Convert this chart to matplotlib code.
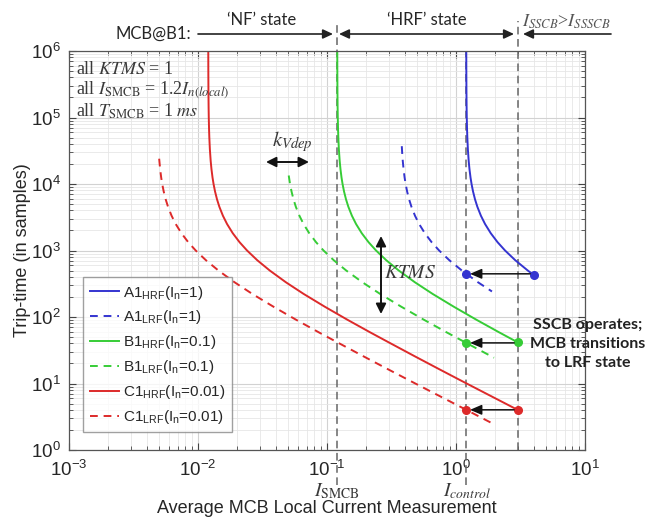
import matplotlib
matplotlib.use("Agg")
import matplotlib.pyplot as plt

plt.rcParams['font.family'] = ['Liberation Sans', 'DejaVu Sans']
plt.rcParams['mathtext.fontset'] = 'custom'
plt.rcParams['mathtext.rm'] = 'Liberation Sans'
plt.rcParams['mathtext.it'] = 'Liberation Sans:italic'
plt.rcParams['mathtext.bf'] = 'Liberation Sans:bold'

# ---------------- data ----------------
a1_hrf_x = [1.2012, 1.2024, 1.2048, 1.2084, 1.212, 1.218, 1.224, 1.236, 1.254, 1.272, 1.296, 1.32,
            1.356, 1.404, 1.464, 1.56, 1.68, 1.86, 2.1, 2.4, 2.88, 3.6, 4.0]
a1_hrf_y = [1e6, 500000, 250000, 142857, 100000, 66667, 50000, 33333, 22222, 16667, 12500, 10000,
            7692, 5882, 4545, 3333, 2500, 1818, 1333, 1000, 714, 500, 429]
a1_lrf_x = [0.3800, 0.3830, 0.3867, 0.3922, 0.3996, 0.407, 0.4181, 0.4329, 0.4514, 0.481, 0.518,
            0.5735, 0.6475, 0.74, 0.888, 1.11, 1.48, 1.9]
a1_lrf_y = [37037, 28571, 22222, 16667, 12500, 10000, 7692, 5882, 4545, 3333, 2500,
            1818, 1333, 1000, 714, 500, 333, 242]

b1_hrf_x = [0.12012, 0.12024, 0.12048, 0.12084, 0.1212, 0.1218, 0.1224, 0.1236, 0.1254, 0.1272,
            0.1296, 0.132, 0.1356, 0.1404, 0.1464, 0.156, 0.168, 0.186, 0.21, 0.24, 0.288, 0.36,
            0.48, 0.66, 0.96, 1.44, 2.16, 3.0]
b1_hrf_y = [1e6, 500000, 250000, 142857, 100000, 66667, 50000, 33333, 22222, 16667,
            12500, 10000, 7692, 5882, 4545, 3333, 2500, 1818, 1333, 1000, 714, 500,
            333, 222, 143, 90.9, 58.8, 41.7]
b1_lrf_x = [0.0505, 0.0517, 0.05311, 0.05499, 0.05734, 0.0611, 0.0658, 0.07285, 0.08225, 0.094,
            0.1128, 0.141, 0.188, 0.2585, 0.376, 0.564, 0.846, 1.175, 1.97]
b1_lrf_y = [13423, 10000, 7692, 5882, 4545, 3333, 2500, 1818, 1333, 1000,
            714, 500, 333, 222, 143, 90.9, 58.8, 41.7, 24.4]

c1_hrf_x = [0.012012, 0.012024, 0.012048, 0.012084, 0.01212, 0.01218, 0.01224, 0.01236, 0.01254,
            0.01272, 0.01296, 0.0132, 0.01356, 0.01404, 0.01464, 0.0156, 0.0168, 0.0186, 0.021,
            0.024, 0.0288, 0.036, 0.048, 0.066, 0.096, 0.144, 0.216, 0.3, 0.48, 0.72, 1.08,
            1.68, 2.4, 3.0]
c1_hrf_y = [1e6, 500000, 250000, 142857, 100000, 66667, 50000, 33333, 22222,
            16667, 12500, 10000, 7692, 5882, 4545, 3333, 2500, 1818, 1333,
            1000, 714, 500, 333, 222, 143, 90.9, 58.8, 41.7, 25.6, 16.9, 11.2,
            7.19, 5.03, 4.02]
c1_lrf_x = [0.005, 0.005088, 0.005184, 0.00528, 0.005424, 0.005616, 0.005856, 0.00624, 0.00672,
            0.00744, 0.0084, 0.0096, 0.01152, 0.0144, 0.0192, 0.0264, 0.0384, 0.0576, 0.0864,
            0.12, 0.192, 0.288, 0.432, 0.672, 0.96, 1.2, 1.9]
c1_lrf_y = [24000, 16667, 12500, 10000, 7692, 5882, 4545, 3333, 2500,
            1818, 1333, 1000, 714, 500, 333, 222, 143, 90.9, 58.8,
            41.7, 25.6, 16.9, 11.2, 7.19, 5.03, 4.02, 2.53]

hrf_dot_x = [4.0, 3.0, 3.0]
hrf_dot_y = [429, 41.7, 4.02]
lrf_dot_x = [1.2, 1.2, 1.2]
lrf_dot_y = [446, 40.8, 4.02]

i_smcb = 0.12
i_control = 1.2
i_sscb = 3.0

labels = [r'A1$_{\mathrm{HRF}}$(I$_{\mathrm{n}}$=1)', r'A1$_{\mathrm{LRF}}$(I$_{\mathrm{n}}$=1)',
          r'B1$_{\mathrm{HRF}}$(I$_{\mathrm{n}}$=0.1)', r'B1$_{\mathrm{LRF}}$(I$_{\mathrm{n}}$=0.1)',
          r'C1$_{\mathrm{HRF}}$(I$_{\mathrm{n}}$=0.01)', r'C1$_{\mathrm{LRF}}$(I$_{\mathrm{n}}$=0.01)']

BLUE = '#3434d0'
GREEN = '#36cc36'
RED = '#dd2a2a'
TXT = '#262626'

fig = plt.figure(figsize=(6.53, 5.21), dpi=100)
ax = fig.add_axes([69/653, 1-450/521, (585-69)/653, (450-51)/521])

lw = 1.4
dash = (0, (4, 3))
ax.plot(a1_hrf_x, a1_hrf_y, color=BLUE, lw=lw, label=labels[0])
ax.plot(a1_lrf_x, a1_lrf_y, color=BLUE, lw=lw, ls=dash, label=labels[1])
ax.plot(b1_hrf_x, b1_hrf_y, color=GREEN, lw=lw, label=labels[2])
ax.plot(b1_lrf_x, b1_lrf_y, color=GREEN, lw=lw, ls=dash, label=labels[3])
ax.plot(c1_hrf_x, c1_hrf_y, color=RED, lw=lw, label=labels[4])
ax.plot(c1_lrf_x, c1_lrf_y, color=RED, lw=lw, ls=dash, label=labels[5])

cols = [BLUE, GREEN, RED]
for i in range(3):
    ax.plot(hrf_dot_x[i], hrf_dot_y[i], 'o', color=cols[i], ms=5.5, zorder=5)
    ax.plot(lrf_dot_x[i], lrf_dot_y[i], 'o', color=cols[i], ms=5.5, zorder=5)
    ax.annotate('', xy=(lrf_dot_x[i] * 1.07, lrf_dot_y[i]), xytext=(hrf_dot_x[i] * 0.94, lrf_dot_y[i]),
                arrowprops=dict(arrowstyle='-|>,head_length=0.7,head_width=0.3', color='#111111', lw=1.1,
                                shrinkA=0, shrinkB=0), zorder=6)

ax.set_xscale('log')
ax.set_yscale('log')
ax.set_xlim(1e-3, 1e1)
ax.set_ylim(1e0, 1e6)

ax.grid(True, which='major', color='#d2d2d2', lw=0.8)
ax.grid(True, which='minor', color='#e6e6e6', lw=0.6)
ax.set_axisbelow(True)
ax.tick_params(which='both', direction='in', top=True, right=True, colors='#444444',
               labelcolor=TXT, labelsize=13.5)
ax.tick_params(which='major', length=5)
ax.tick_params(which='minor', length=3)
ax.tick_params(axis='x', which='major', pad=7)
ax.tick_params(axis='y', which='major', pad=6)
for s in ax.spines.values():
    s.set_color('#555555')
    s.set_linewidth(0.9)

ax.set_xlabel('Average MCB Local Current Measurement', fontsize=13, color=TXT)
ax.xaxis.set_label_coords(0.5, -(500 - 450) / 399)
ax.set_ylabel('Trip-time (in samples)', fontsize=13, color=TXT)
ax.yaxis.set_label_coords(-0.074, 0.5)

# dashed vertical lines
dcol = '#666666'
ax.axvline(i_smcb, ymin=-0.088, ymax=1.075, color=dcol, ls=(0, (5, 3)), lw=1.1, clip_on=False, zorder=1)
ax.axvline(i_control, ymin=-0.088, ymax=1.0, color=dcol, ls=(0, (5, 3)), lw=1.1, clip_on=False, zorder=1)
ax.axvline(i_sscb, ymin=0.0, ymax=1.075, color=dcol, ls=(0, (5, 3)), lw=1.1, clip_on=False, zorder=1)

# legend
leg = ax.legend(loc='lower left', bbox_to_anchor=(0.028, 0.045), fontsize=11, frameon=True,
                fancybox=False, edgecolor='#888888', handlelength=1.9, handletextpad=0.3,
                labelspacing=0.45, borderpad=0.4, borderaxespad=0)
leg.get_frame().set_linewidth(1.0)
for t in leg.get_texts():
    t.set_color(TXT)

# serif annotations inside plot
scol = '#3a3a3a'
ax.text(76/653, 1-69/521, r'all $KTMS$ = 1', transform=fig.transFigure, fontsize=13,
        family='Liberation Serif', math_fontfamily='stix', color=scol, va='center')
ax.text(76/653, 1-90/521, r'all $I_{\mathrm{SMCB}}$ = 1.2$I_{n(local)}$', transform=fig.transFigure,
        fontsize=13, family='Liberation Serif', math_fontfamily='stix', color=scol, va='center')
ax.text(76/653, 1-111/521, r'all $T_{\mathrm{SMCB}}$ = 1 $ms$', transform=fig.transFigure, fontsize=13,
        family='Liberation Serif', math_fontfamily='stix', color=scol, va='center')

ax.text(272/653, 1-142/521, r'$k_{Vdep}$', transform=fig.transFigure, fontsize=15,
        family='Liberation Serif', math_fontfamily='stix', color=scol, va='center')
ax.annotate('', xy=(309/653, 1-162/521), xytext=(266/653, 1-162/521), xycoords='figure fraction',
            arrowprops=dict(arrowstyle='<|-|>,head_length=0.6,head_width=0.3', color='#111111', lw=1.4,
                            shrinkA=0, shrinkB=0))
ax.annotate('', xy=(381/653, 1-236/521), xytext=(381/653, 1-314/521), xycoords='figure fraction',
            arrowprops=dict(arrowstyle='<|-|>,head_length=0.6,head_width=0.3', color='#111111', lw=1.4,
                            shrinkA=0, shrinkB=0))
ax.text(384/653, 1-274/521, r'$KTMS$', transform=fig.transFigure, fontsize=14,
        family='Liberation Serif', math_fontfamily='stix', color=scol, va='center')

# bold note
fig.text(588/653, 1-344/521, 'SSCB operates;\nMCB transitions\nto LRF state', ha='center', va='center',
         fontsize=11.5, fontweight='bold', family='Lato', color='#222222', linespacing=1.45)

# x-axis extra labels
fig.text(337/653, 1-491/521, r'$I_{\mathrm{SMCB}}$', ha='center', va='center', fontsize=14,
         family='Liberation Serif', math_fontfamily='stix', color=scol)
fig.text(467/653, 1-491/521, r'$I_{control}$', ha='center', va='center', fontsize=14,
         family='Liberation Serif', math_fontfamily='stix', color=scol)

# top state annotations
ty = 1 - 34/521
fig.text(191/653, ty, 'MCB@B1:', ha='right', va='center', fontsize=12, family='Lato', color=TXT)
fig.text(262/653, 1-20/521, '\u2018NF\u2019 state', ha='center', va='center', fontsize=12, family='Lato', color=TXT)
fig.text(427/653, 1-20/521, '\u2018HRF\u2019 state', ha='center', va='center', fontsize=12, family='Lato', color=TXT)
fig.text(522/653, 1-22/521, r'$I_{SSCB}$>$I_{SSSCB}$', ha='left', va='center', fontsize=13,
         family='Liberation Serif', math_fontfamily='stix', color='#555555')

ap1 = dict(arrowstyle='-|>,head_length=0.6,head_width=0.28', color='#222222', lw=1.2, shrinkA=0, shrinkB=0)
ap2 = dict(arrowstyle='<|-|>,head_length=0.6,head_width=0.28', color='#222222', lw=1.2, shrinkA=0, shrinkB=0)
ax.annotate('', xy=(333/653, ty), xytext=(198/653, ty), xycoords='figure fraction', arrowprops=ap1)
ax.annotate('', xy=(514/653, ty), xytext=(339/653, ty), xycoords='figure fraction', arrowprops=ap2)
ax.annotate('', xy=(523/653, ty), xytext=(611/653, ty), xycoords='figure fraction', arrowprops=ap1)

fig.savefig('out.png', dpi=100)
